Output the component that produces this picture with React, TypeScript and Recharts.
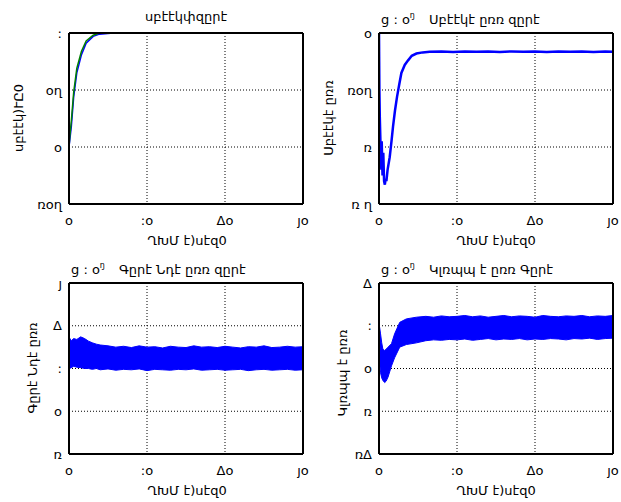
import React from "react";
import {
  ComposedChart,
  Line,
  Area,
  XAxis,
  YAxis,
  CartesianGrid,
  ReferenceLine,
} from "recharts";

// ─── DATA ────────────────────────────────────────────────────────────

const X_TICKS = [0, 10, 20, 30];
const X_TICK_LABELS = ["o", ":o", "Δo", "յo"];
const X_LABEL = "ՂԽՄ է)սէզ0";

// panel 1: speed + reference
const T1 = [0, 0.1, 0.3, 0.6, 1.0, 1.6, 2.2, 3.1, 3.9, 5.7, 30];
const SPEED1 = [0, 0.06, 0.18, 0.44, 0.65, 0.81, 0.91, 0.97, 0.99, 1.0, 1.0];
const REF1 = [0, 0.09, 0.23, 0.48, 0.69, 0.84, 0.93, 0.98, 1.0, 1.0, 1.0];
const Y1_TICKS = [-0.5, 0, 0.5, 1];
const Y1_TICK_LABELS = ["ռoղ", "o", "oղ", ":"];

// panel 2: speed error
const T2 = [
  0, 0.05, 0.1, 0.2, 0.3, 0.35, 0.45, 0.55, 0.65, 0.75, 0.85, 0.95, 1.1, 1.37,
  1.6, 1.8, 2.05, 2.31, 2.6, 2.87, 3.3, 3.73, 4.2, 4.8, 5.6, 6.5, 8, 9.5, 11,
  12.5, 14, 15.5, 17, 18.5, 20, 21.5, 23, 24.5, 26, 27.5, 29, 30,
];
const ERR2 = [
  0, -0.5, -0.73, -1.0, -1.2, -0.95, -1.25, -1.05, -1.3, -1.33, -1.28, -1.3,
  -1.2, -1.09, -0.95, -0.82, -0.68, -0.56, -0.45, -0.35, -0.28, -0.24, -0.2,
  -0.18, -0.17, -0.165, -0.163, -0.166, -0.162, -0.165, -0.163, -0.166, -0.162,
  -0.165, -0.163, -0.166, -0.162, -0.165, -0.163, -0.166, -0.163, -0.165,
];
const Y2_TICKS = [-1.5, -1, -0.5, 0];
const Y2_TICK_LABELS = ["ռ ղ", "ռ", "ռoղ", "o"];

// panel 3: band (low / high envelope)
const T3 = [
  0, 0.05, 0.3, 0.6, 1.0, 1.5, 2.0, 2.5, 3.0, 3.5, 4.0, 5, 6, 7, 8, 9, 10, 11,
  12, 13, 14, 15, 16, 17, 18, 19, 20, 21, 22, 23, 24, 25, 26, 27, 28, 29, 30,
];
const LOW3 = [
  -0.84, 1.0, 1.02, 1.05, 1.03, 1.02, 1.0, 1.0, 0.98, 1.0, 0.97, 0.99, 0.96,
  0.98, 0.97, 0.99, 0.95, 0.98, 0.97, 0.96, 0.98, 0.97, 0.99, 0.96, 0.97, 0.98,
  0.96, 0.97, 0.98, 0.95, 0.97, 0.98, 0.96, 0.97, 0.98, 0.96, 0.97,
];
const HIGH3 = [
  2.2, 1.72, 1.65, 1.7, 1.68, 1.74, 1.7, 1.64, 1.6, 1.57, 1.55, 1.53, 1.5,
  1.52, 1.49, 1.53, 1.5, 1.51, 1.48, 1.52, 1.5, 1.49, 1.53, 1.5, 1.51, 1.49,
  1.52, 1.5, 1.48, 1.51, 1.5, 1.53, 1.49, 1.5, 1.52, 1.5, 1.51,
];
const Y3_TICKS = [-1, 0, 1, 2, 3];
const Y3_TICK_LABELS = ["ռ", "o", ":", "Δ", "յ"];

// panel 4: band (low / high envelope)
const T4 = [
  0, 0.05, 0.2, 0.35, 0.5, 0.73, 0.9, 1.16, 1.6, 2.0, 2.66, 3.5, 4.8, 6, 7, 8,
  9, 10, 11, 12, 13, 14, 15, 16, 17, 18, 19, 20, 21, 22, 23, 24, 25, 26, 27, 28,
  29, 30,
];
const LOW4 = [
  -1.3, 0.2, -0.1, -0.22, -0.28, -0.33, -0.3, -0.2, 0.06, 0.25, 0.5, 0.56, 0.6,
  0.65, 0.67, 0.66, 0.68, 0.67, 0.69, 0.66, 0.68, 0.7, 0.67, 0.69, 0.68, 0.7,
  0.67, 0.69, 0.68, 0.7, 0.69, 0.67, 0.7, 0.69, 0.71, 0.68, 0.7, 0.71,
];
const HIGH4 = [
  1.55, 1.0, 0.81, 0.6, 0.45, 0.42, 0.45, 0.5, 0.58, 0.81, 1.08, 1.16, 1.2,
  1.22, 1.2, 1.23, 1.21, 1.22, 1.24, 1.21, 1.23, 1.2, 1.22, 1.24, 1.21, 1.23,
  1.22, 1.2, 1.24, 1.22, 1.21, 1.23, 1.22, 1.24, 1.21, 1.23, 1.22, 1.24,
];
const Y4_TICKS = [-2, -1, 0, 1, 2];
const Y4_TICK_LABELS = ["ռΔ", "ռ", "o", ":", "Δ"];

// ─── LAYOUT ──────────────────────────────────────────────────────────

const FONT = "'DejaVu Sans', sans-serif";
const BLUE = "#0000ff";
const GREEN = "#008000";

const fmt = (ticks: number[], labels: string[]) => (v: number) => {
  const i = ticks.findIndex((t) => Math.abs(t - v) < 1e-9);
  return i >= 0 ? labels[i] : "";
};

type PanelProps = {
  left: number;
  top: number;
  data: any[];
  yTicks: number[];
  yLabels: string[];
  children: React.ReactNode;
};

function Panel({ left, top, data, yTicks, yLabels, children }: PanelProps) {
  const yMin = yTicks[0];
  const yMax = yTicks[yTicks.length - 1];
  return (
    <div style={{ position: "absolute", left, top }}>
      <ComposedChart
        width={310}
        height={250}
        data={data}
        margin={{ top: 33, right: 7, bottom: 16, left: 29 }}
      >
        <CartesianGrid stroke="#000" strokeDasharray="1 2" />
        <XAxis
          dataKey="t"
          type="number"
          domain={[0, 30]}
          ticks={X_TICKS}
          tickFormatter={fmt(X_TICKS, X_TICK_LABELS)}
          height={30}
          tickLine={false}
          tickSize={0}
          tickMargin={12}
          axisLine={{ stroke: "#000", strokeWidth: 2 }}
          tick={{ fill: "#000", fontSize: 13, fontFamily: FONT }}
          allowDataOverflow
        />
        <YAxis
          type="number"
          domain={[yMin, yMax]}
          ticks={yTicks}
          tickFormatter={fmt(yTicks, yLabels)}
          width={40}
          tickLine={false}
          tickSize={0}
          tickMargin={7}
          axisLine={{ stroke: "#000", strokeWidth: 2 }}
          tick={{ fill: "#000", fontSize: 13, fontFamily: FONT }}
          allowDataOverflow
        />
        {children}
        <ReferenceLine x={30} stroke="#000" strokeWidth={2} />
        <ReferenceLine y={yMax} stroke="#000" strokeWidth={2} />
      </ComposedChart>
    </div>
  );
}

const textBase: React.CSSProperties = {
  position: "absolute",
  fontFamily: FONT,
  fontSize: 13,
  color: "#000",
  whiteSpace: "pre",
  lineHeight: "15px",
};

function Title({ x, y, text, prefix }: { x: number; y: number; text: string; prefix?: boolean }) {
  if (!prefix) {
    return (
      <div style={{ ...textBase, left: x, top: y, transform: "translateX(-50%)" }}>{text}</div>
    );
  }
  return (
    <div style={{ ...textBase, left: x, top: y }}>
      {"g : o"}
      <span style={{ fontSize: 8, verticalAlign: "6px" }}>ŋ</span>
      <span style={{ marginLeft: 14 }}>{text}</span>
    </div>
  );
}

function XLabel({ x, y }: { x: number; y: number }) {
  return (
    <div style={{ ...textBase, left: x, top: y, transform: "translateX(-50%)" }}>{X_LABEL}</div>
  );
}

function YLabel({ x, y, text }: { x: number; y: number; text: string }) {
  return (
    <div
      style={{
        ...textBase,
        left: x,
        top: y,
        transform: "translate(-50%, -50%) rotate(-90deg)",
      }}
    >
      {text}
    </div>
  );
}

export default function App() {
  const data1 = T1.map((t, i) => ({ t, speed: SPEED1[i], ref: REF1[i] }));
  const data2 = T2.map((t, i) => ({ t, err: ERR2[i] }));
  const data3 = T3.map((t, i) => ({ t, band: [LOW3[i], HIGH3[i]] }));
  const data4 = T4.map((t, i) => ({ t, band: [LOW4[i], HIGH4[i]] }));

  return (
    <div
      style={{
        position: "absolute",
        left: 0,
        top: 0,
        width: 621,
        height: 502,
        background: "#fff",
        overflow: "hidden",
      }}
    >
      <Panel left={0} top={0} data={data1} yTicks={Y1_TICKS} yLabels={Y1_TICK_LABELS}>
        <Line dataKey="speed" type="linear" stroke={BLUE} strokeWidth={1.5} dot={false} isAnimationActive={false} />
        <Line dataKey="ref" type="linear" stroke={GREEN} strokeWidth={1.5} dot={false} isAnimationActive={false} />
      </Panel>
      <Panel left={310} top={0} data={data2} yTicks={Y2_TICKS} yLabels={Y2_TICK_LABELS}>
        <Line dataKey="err" type="linear" stroke={BLUE} strokeWidth={2.5} dot={false} isAnimationActive={false} />
      </Panel>
      <Panel left={0} top={250} data={data3} yTicks={Y3_TICKS} yLabels={Y3_TICK_LABELS}>
        <Area dataKey="band" type="linear" stroke={BLUE} strokeWidth={1} fill={BLUE} fillOpacity={1} dot={false} isAnimationActive={false} />
      </Panel>
      <Panel left={310} top={250} data={data4} yTicks={Y4_TICKS} yLabels={Y4_TICK_LABELS}>
        <Area dataKey="band" type="linear" stroke={BLUE} strokeWidth={1} fill={BLUE} fillOpacity={1} dot={false} isAnimationActive={false} />
      </Panel>

      <Title x={186} y={9} text="սբէէկփզըրէ" />
      <Title x={381} y={8} text="Սբէէկէ ըռռ զըրէ" prefix />
      <Title x={71} y={258} text="Գըրէ Նդէ ըռռ զըրէ" prefix />
      <Title x={381} y={258} text="Կլռպպ է ըռռ Գըրէ" prefix />

      <XLabel x={187} y={233} />
      <XLabel x={496} y={233} />
      <XLabel x={187} y={483} />
      <XLabel x={496} y={483} />

      <YLabel x={18} y={118} text="սբէէկ)ՒԸ0" />
      <YLabel x={328} y={118} text="Սբէէկէ ըռռ" />
      <YLabel x={32} y={368} text="Գըրէ Նդէ ըռռ" />
      <YLabel x={342} y={373} text="Կլռպպ է ըռռ" />
    </div>
  );
}
